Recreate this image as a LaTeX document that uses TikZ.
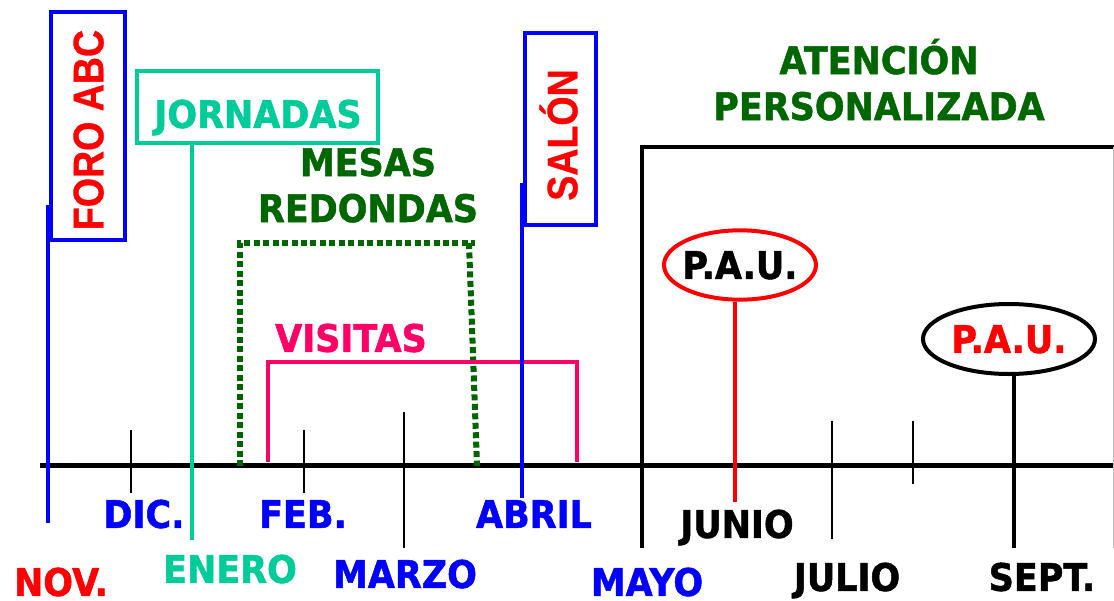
\documentclass[tikz,border=0pt]{standalone}
\usepackage{fontspec}
\newfontfamily\boldfont{DejaVu Sans Bold}[FakeStretch=0.92, FakeBold=1.3]
\newfontfamily\narrowfont{Liberation Sans Bold}[FakeStretch=0.88, FakeBold=0.8]
\usetikzlibrary{shapes.geometric}

\definecolor{mblue}{RGB}{0,0,255}
\definecolor{mred}{RGB}{255,0,0}
\definecolor{mteal}{RGB}{0,204,153}
\definecolor{mpink}{RGB}{255,0,102}
\definecolor{mgreen}{RGB}{0,102,0}

\tikzset{every picture/.style={line width=0.75pt},
  lbl/.style={font=\boldfont\fontsize{28.5}{34.5}\selectfont, inner sep=0pt, text height=20.8pt, text depth=0pt},
  twolines/.style={font=\boldfont\fontsize{28.5}{34.5}\selectfont, inner sep=0pt, align=center, anchor=base},
  vlbl/.style={font=\narrowfont\fontsize{32}{38}\selectfont, text=mred, inner sep=0pt, rotate=90, text height=22.9pt, text depth=0pt},
  tick/.style={line width=1.5pt},
  pauring/.style={ellipse, line width=3pt, inner sep=0pt}
}

\begin{document}
\begin{tikzpicture}[x=0.75pt,y=0.75pt,yscale=-1,xscale=1]
\useasboundingbox (0,0) rectangle (1114,600);

%Straight Lines: time axis
\draw [line width=3.75pt] (40,465) -- (1114,465) ;
%Straight Lines: month ticks
\draw [tick] (131,430) -- (131,493) ;
\draw [tick] (304,430) -- (304,493) ;
\draw [tick] (404,412) -- (404,548) ;
\draw [tick] (832,421) -- (832,539) ;
\draw [tick] (913,421) -- (913,484) ;

%Shape: Rectangle, foro
\draw [color=mblue, line width=3pt] (48,205) -- (48,523) ;
\draw [color=mblue, line width=3pt] (51,12) rectangle (125,240) ;
\node [vlbl] (foro) at (88,130) {FORO ABC};

%Shape: Rectangle, jornadas
\draw [color=mteal, line width=3pt] (136.5,70.5) rectangle (377.5,143) ;
\draw [color=mteal, line width=3pt] (191.5,143) -- (191.5,540) ;
\node [lbl, text=mteal] (jornadas) at (258,114) {JORNADAS};

%Dotted bracket: mesas redondas
\draw [color=mgreen, line width=4.5pt, dash pattern={on 4.5pt off 2.6pt}] (240,466) -- (240,243) -- (475,243) ;
\draw [color=mgreen, line width=4.5pt, dash pattern={on 4.5pt off 2.6pt}] (469,243) -- (477,466) ;
\node [twolines, text=mgreen] (mesas) at (368,222) {MESAS\\REDONDAS};

%Bracket: visitas
\draw [color=mpink, line width=3pt] (268,462) -- (268,362) -- (577,362) -- (577,462) ;
\node [lbl, text=mpink] (visitas) at (351,338) {VISITAS};

%Shape: Rectangle, salon
\draw [color=mblue, line width=3pt] (522,183) -- (522,498) ;
\draw [color=mblue, line width=3pt] (525,33) rectangle (596,225) ;
\node [vlbl] (salon) at (562,135) {SALÓN};

%Open box: atencion personalizada
\draw [line width=2.5pt] (642,548) -- (642,147) -- (1114,147) ;
\draw [color=black!25, line width=0.75pt] (1113,147) -- (1113,548) ;
\node [twolines, text=mgreen] (atencion) at (879,120) {ATENCIÓN\\PERSONALIZADA};

%Shape: Ellipse, first P.A.U.
\node [pauring, draw=mred, minimum width=114pt, minimum height=52pt, label={[lbl]center:P.A.U.}] (pau1) at (740,265) {};
\coordinate (junbot) at (735,502);
\draw [color=mred, line width=3.5pt] (pau1.south -| junbot) -- (junbot) ;

%Shape: Ellipse, second P.A.U.
\node [pauring, draw=black, minimum width=129pt, minimum height=52.5pt, label={[lbl, text=mred]center:P.A.U.}] (pau2) at (1009,339) {};
\coordinate (sepbot) at (1014,548);
\draw [line width=3pt] (pau2.south -| sepbot) -- (sepbot) ;

% Text Node: months
\node [lbl, text=mred] (nov) at (61,582) {NOV.};
\node [lbl, text=mblue] (dic) at (144,514) {DIC.};
\node [lbl, text=mteal] (ene) at (230,569) {ENERO};
\node [lbl, text=mblue] (feb) at (303,514) {FEB.};
\node [lbl, text=mblue] (mar) at (405,574) {MARZO};
\node [lbl, text=mblue] (abr) at (534,514) {ABRIL};
\node [lbl, text=mblue] (may) at (647,582) {MAYO};
\node [lbl] (jun) at (737,524) {JUNIO};
\node [lbl] (jul) at (847,577) {JULIO};
\node [lbl] (sep) at (1042,577) {SEPT.};

\end{tikzpicture}
\end{document}
